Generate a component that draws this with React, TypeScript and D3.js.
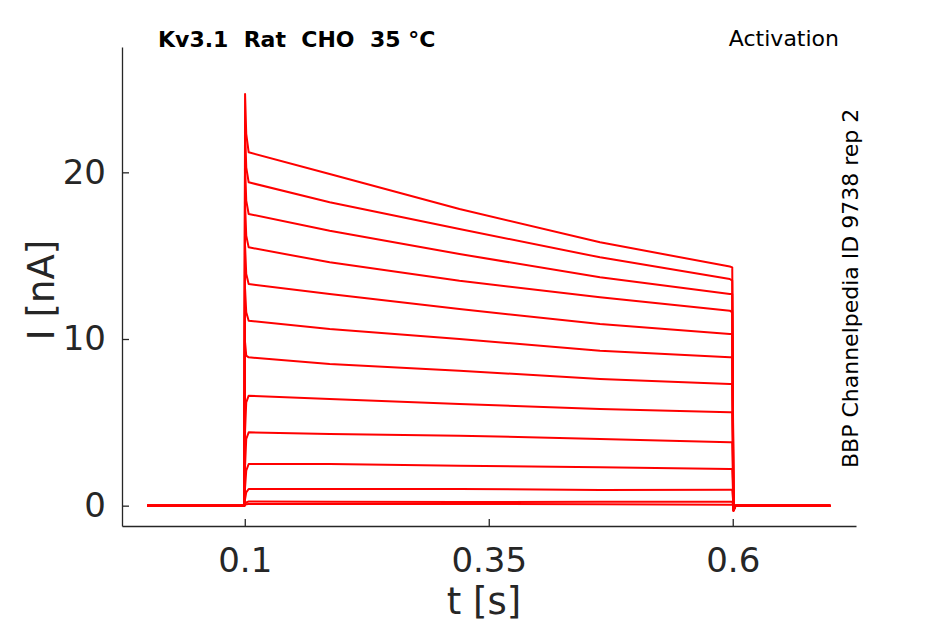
import { useRef, useEffect } from "react"
import * as d3 from "d3"

const times = [0, 0.0995, 0.1003, 0.1015, 0.104, 0.187, 0.32, 0.464, 0.597, 0.5995, 0.6008, 0.603, 0.7]

// current (nA) of each voltage step at the sample times above
const traceValues = [
  [0, 0, 24.7, 22.3, 21.2, 19.9, 17.8, 15.8, 14.35, 14.3, -0.3, 0, 0],
  [0, 0, 22.6, 20.3, 19.4, 18.2, 16.6, 14.9, 13.6, 13.5, -0.3, 0, 0],
  [0, 0, 20.4, 18.3, 17.5, 16.5, 15.1, 13.7, 12.7, 12.7, -0.3, 0, 0],
  [0, 0, 18.1, 16.2, 15.5, 14.6, 13.5, 12.5, 11.7, 11.6, -0.3, 0, 0],
  [0, 0, 15.6, 13.9, 13.3, 12.7, 11.8, 10.9, 10.3, 10.3, -0.25, 0, 0],
  [0, 0, 13.0, 11.6, 11.1, 10.6, 10.0, 9.3, 8.9, 8.9, -0.2, 0, 0],
  [0, 0, 9.8, 9.0, 8.9, 8.5, 8.1, 7.6, 7.3, 7.3, -0.2, 0, 0],
  [0, 0, 4.5, 6.2, 6.6, 6.4, 6.1, 5.8, 5.6, 5.6, -0.15, 0, 0],
  [0, 0, 2.4, 4.0, 4.4, 4.3, 4.2, 4.0, 3.8, 3.8, -0.1, 0, 0],
  [0, 0, 1.1, 2.1, 2.5, 2.5, 2.4, 2.3, 2.2, 2.2, -0.05, 0, 0],
  [0, 0, 0.4, 0.8, 1.0, 1.0, 1.0, 0.94, 0.95, 0.95, 0, 0, 0],
  [0, 0, 0.1, 0.2, 0.25, 0.24, 0.22, 0.24, 0.24, 0.24, 0, 0, 0],
  [0, 0, 0.05, 0.08, 0.1, 0.1, 0.1, 0.08, 0.06, 0.06, 0, 0, 0],
]

const xTicks = [0.1, 0.35, 0.6]
const yTicks = [0, 10, 20]

const title = "Kv3.1  Rat  CHO  35 °C"
const protocol = "Activation"
const source = "BBP Channelpedia ID 9738 rep 2"

export default function App() {
  const svgRef = useRef<SVGSVGElement>(null)

  useEffect(() => {
    if (!svgRef.current) return
    const svg = d3.select(svgRef.current)
    svg.selectAll("*").remove()

    const axisColor = "#262626"
    const font = "'DejaVu Sans', sans-serif"

    const x = d3.scaleLinear().domain([-0.0258, 0.7263]).range([122, 856])
    const y = d3.scaleLinear().domain([-1.22, 27.52]).range([526, 47])

    // traces
    const line = d3
      .line<number>()
      .x((_, i) => x(times[i]))
      .y((d) => y(d))

    svg
      .append("g")
      .selectAll("path")
      .data(traceValues)
      .enter()
      .append("path")
      .attr("d", (d) => line(d))
      .attr("fill", "none")
      .attr("stroke", "#ff0000")
      .attr("stroke-width", 2)
      .attr("stroke-linejoin", "round")

    // axes
    const xAxis = svg
      .append("g")
      .attr("transform", `translate(0,526)`)
      .call(
        d3
          .axisBottom(x)
          .tickValues(xTicks)
          .tickFormat((d) => String(d))
          .tickSizeInner(-7)
          .tickSizeOuter(0)
          .tickPadding(22)
      )
    const yAxis = svg
      .append("g")
      .attr("transform", `translate(122,0)`)
      .call(
        d3
          .axisLeft(y)
          .tickValues(yTicks)
          .tickFormat((d) => String(d))
          .tickSizeInner(-7)
          .tickSizeOuter(0)
          .tickPadding(16)
      )

    for (const ax of [xAxis, yAxis]) {
      ax.select(".domain").attr("stroke", axisColor).attr("stroke-width", 1.3)
      ax.selectAll(".tick line").attr("stroke", axisColor).attr("stroke-width", 1.3)
      ax.selectAll(".tick text")
        .attr("fill", axisColor)
        .style("font-family", font)
        .style("font-size", "34px")
    }

    // axis labels
    svg
      .append("text")
      .attr("x", 484)
      .attr("y", 614)
      .attr("text-anchor", "middle")
      .attr("fill", axisColor)
      .style("font-family", font)
      .style("font-size", "37px")
      .text("t [s]")

    svg
      .append("text")
      .attr("transform", "translate(54,290) rotate(-90)")
      .attr("text-anchor", "middle")
      .attr("fill", axisColor)
      .style("font-family", font)
      .style("font-size", "37px")
      .text("I [nA]")

    // annotations
    svg
      .append("text")
      .attr("x", 158)
      .attr("y", 47)
      .attr("fill", "#000")
      .style("font-family", font)
      .style("font-weight", "bold")
      .style("font-size", "22px")
      .style("white-space", "pre")
      .text(title)

    svg
      .append("text")
      .attr("x", 839)
      .attr("y", 46)
      .attr("text-anchor", "end")
      .attr("fill", "#000")
      .style("font-family", font)
      .style("font-size", "22px")
      .text(protocol)

    svg
      .append("text")
      .attr("transform", "translate(858,468) rotate(-90)")
      .attr("fill", "#000")
      .style("font-family", font)
      .style("font-size", "22px")
      .text(source)
  }, [])

  return (
    <svg
      ref={svgRef}
      width={945}
      height={624}
      style={{ position: "absolute", left: 0, top: 0, background: "#fff" }}
    />
  )
}
